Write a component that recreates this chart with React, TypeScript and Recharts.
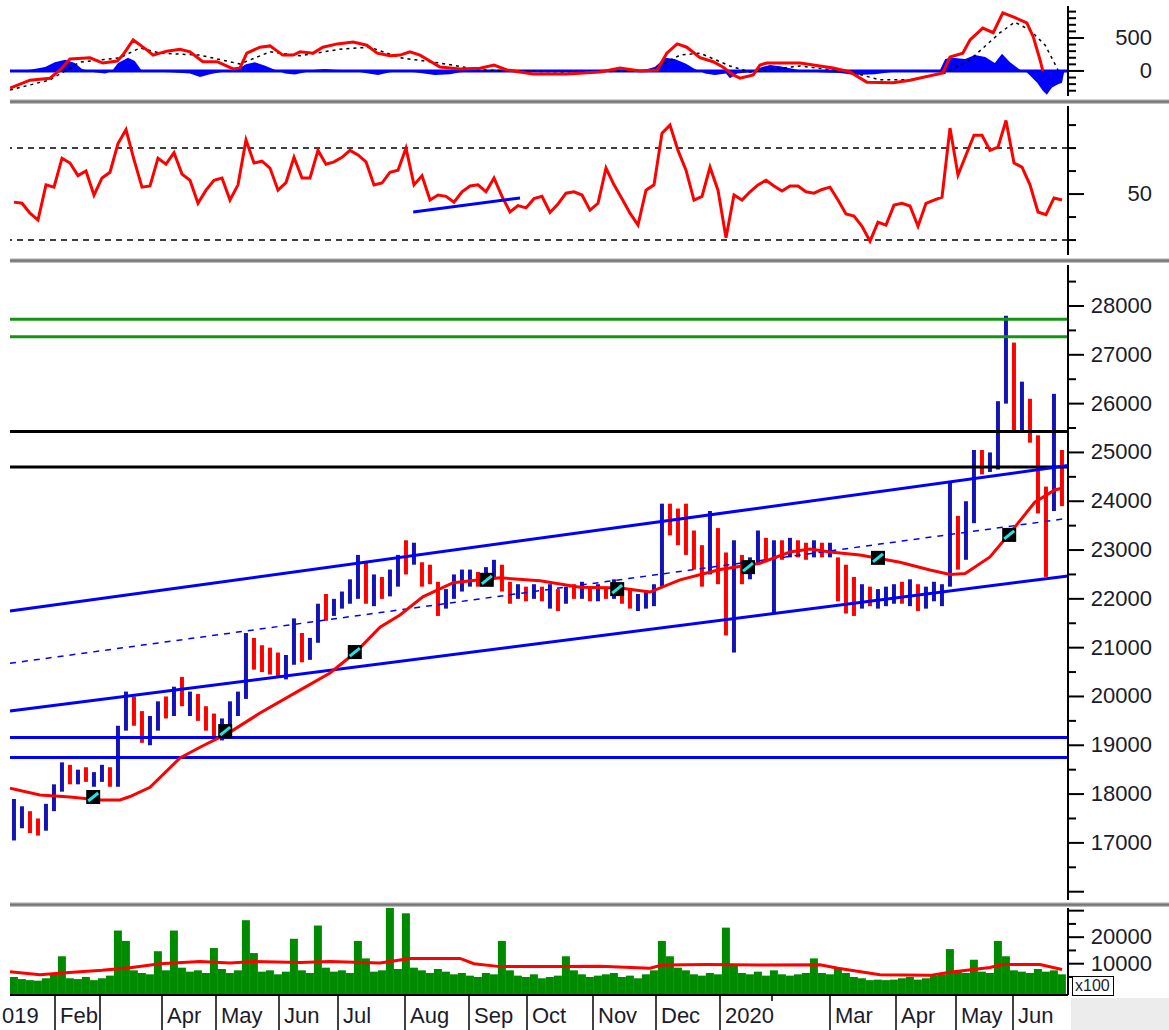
import React from "react";
import { ComposedChart, Bar, Line, Area, Scatter, XAxis, YAxis, ReferenceLine } from "recharts";

// one bar every ~3 sessions, Jan 2019 - Jun 2020
const highs = [
  17900, 17750, 17650, 17500, 17800, 18200, 18650, 18600, 18500, 18550,
  18450, 18600, 18550, 19400, 20100, 20000, 19700, 19600, 19900, 20000,
  20200, 20400, 20100, 20050, 19800, 19650, 19550, 19900, 20100, 21300,
  21200, 21050, 21000, 20900, 20850, 21600, 21300, 21200, 21900, 22100,
  22000, 22150, 22400, 22900, 22750, 22500, 22450, 22600, 22900, 23200,
  23150, 22750, 22700, 22350, 22200, 22500, 22600, 22600, 22550, 22650,
  22800, 22700, 22350, 22300, 22250, 22300, 22250, 22300, 22200, 22250,
  22300, 22350, 22250, 22300, 22250, 22400, 22300, 22200, 22100, 22150,
  22300, 23950, 23950, 23850, 23950, 23400, 23100, 23800, 23450, 22950,
  23200, 22900, 22850, 23400, 23250, 23200, 23200, 23250, 23200, 23150,
  23200, 23150, 23150, 22850, 22700, 22450, 22300, 22250, 22200, 22250,
  22300, 22350, 22400, 22300, 22250, 22350, 22300, 24400, 23700, 24000,
  25050, 25050, 25000, 26050, 27800, 27250, 26450, 26100, 25350, 24300,
  26200, 25050,
];
const lows = [
  17050, 17300, 17200, 17150, 17250, 17650, 18050, 18200, 18200, 18250,
  18150, 18250, 18150, 18150, 19300, 19400, 19050, 19000, 19300, 19550,
  19600, 19800, 19600, 19500, 19300, 19150, 19100, 19300, 19600, 19950,
  20550, 20500, 20450, 20400, 20350, 20650, 20700, 20750, 21100, 21550,
  21650, 21800, 21900, 22000, 21900, 21850, 22000, 22050, 22250, 22500,
  22700, 22250, 22300, 21650, 21800, 22000, 22150, 22250, 22250, 22300,
  22400, 22150, 21900, 22000, 21950, 22000, 21950, 21800, 21750, 21900,
  22000, 22000, 21950, 21950, 22000, 22000, 21900, 21800, 21750, 21800,
  21850, 22250, 23300, 23100, 22900, 22600, 22250, 22500, 22300, 21250,
  20900, 22300, 22400, 22700, 22750, 21700, 22800, 22850, 22850, 22800,
  22850, 22850, 22850, 21950, 21700, 21650, 21800, 21850, 21800, 21850,
  21900, 21900, 21850, 21750, 21800, 21950, 21850, 22250, 22600, 22800,
  23550, 24550, 24600, 24650, 26000, 25450, 25400, 25200, 23750, 22450,
  23800, 23900,
];
const closes = [
  17300, 17500, 17350, 17250, 17700, 18100, 18500, 18350, 18400, 18300,
  18350, 18500, 18250, 19300, 19900, 19600, 19150, 19450, 19800, 19700,
  20050, 19900, 19950, 19600, 19400, 19250, 19450, 19800, 20000, 21000,
  20750, 20650, 20550, 20500, 20700, 21400, 20850, 21100, 21800, 21750,
  21950, 22050, 22300, 22700, 22000, 22300, 22200, 22450, 22800, 22700,
  22800, 22400, 22350, 21950, 22100, 22350, 22400, 22450, 22400, 22550,
  22700, 22200, 22050, 22200, 22050, 22150, 22000, 22150, 21900, 22150,
  22100, 22250, 22050, 22200, 22100, 22300, 22000, 21900, 22000, 22050,
  22200, 23700, 23500, 23400, 23100, 22800, 22500, 23300, 22600, 21900,
  22700, 22650, 22700, 23200, 23000, 23050, 23000, 23100, 23050, 22950,
  23100, 23000, 23050, 22100, 21900, 21850, 22100, 21950, 22000, 22100,
  22150, 22050, 22150, 21900, 22050, 22200, 22250, 23800, 22900, 23700,
  24900, 24800, 24900, 25950, 27300, 25800, 26200, 25300, 24100, 24000,
  24500, 24300,
];
// volume in x100 shares
const volumes = [
  5000, 4200, 3800, 3600, 4500, 6000, 12800, 4500, 4200, 5000,
  3800, 4500, 5500, 22500, 18600, 7500, 6500, 6000, 14700, 7500,
  22500, 8500, 7000, 7500, 6500, 15900, 8000, 6500, 7500, 26400,
  14000, 7000, 7500, 6000, 7000, 19400, 7500, 6500, 24400, 8500,
  7000, 7500, 6500, 18600, 12000, 7000, 7500, 31000, 8000, 29000,
  8500, 7500, 6500, 8000, 7000, 6000, 6500, 5500, 5000, 6500,
  6000, 18600, 7500, 5500, 5000, 6000, 4500, 5000, 5500, 12800,
  7500, 6000, 5000, 5500, 6000, 6500, 5000, 5500, 4500, 6000,
  7500, 18600, 12800, 8500, 7500, 6000, 5500, 6500, 6000, 23600,
  9500, 6500, 6000, 7000, 5500, 7500, 6000, 5500, 6000, 6500,
  12000, 6500, 6000, 8000, 6500, 5000, 4500, 3800, 4000, 3800,
  4000, 4500, 5000, 4000, 4500, 5500, 6000, 15500, 7500, 6500,
  11500, 7000, 6500, 18600, 12800, 7500, 7000, 6500, 8000, 7000,
  7500, 6000,
];
const rsi = [
  46.5, 46, 41.7, 38.7, 54, 53, 65.6, 63.5, 58, 60,
  49.5, 57, 59.5, 72, 78, 65, 53, 53.5, 65.6, 63,
  68, 58.7, 56, 46, 51.7, 56, 57, 47.4, 54, 73.5,
  63.5, 64.3, 61.3, 51.7, 55, 66, 57, 57, 69, 63,
  64, 66, 69, 67, 64, 54, 54.8, 59.5, 60.4, 70,
  54, 58, 47.4, 49.6, 49, 46.5, 51, 53.5, 54, 51,
  57, 49, 42.2, 45, 44, 48, 49, 42, 45.7, 50.4,
  51, 49.6, 43, 46, 61.3, 54, 48, 41.7, 36.5, 51.7,
  54, 76.5, 80, 69, 60.4, 47.4, 49, 61.7, 51.7, 31,
  49.6, 47.4, 51, 54, 56, 53.5, 51.3, 53.5, 53.5, 51,
  50.4, 52, 53, 47.4, 41.3, 40.4, 36, 29.5, 37.8, 36.5,
  45.2, 46, 44.8, 36, 46, 47.4, 48.7, 78.7, 58.3, 67,
  75.6, 75.6, 69, 70.4, 82, 63.5, 61.7, 54, 42.2, 41,
  48.3, 47.4,
];

// [bar position, value]
const priceMa = [
  [-0.5, 18120], [3.25, 17980], [7, 17940], [10.75, 17880], [13.25, 17880], [14.5, 17950],
  [17, 18140], [20.75, 18740], [23.25, 18960], [27, 19270], [30.75, 19660], [35.75, 20130],
  [39.5, 20480], [42.6, 20890], [45.75, 21420], [48.25, 21670], [51.1, 22040], [54.9, 22330],
  [58.25, 22390], [60.75, 22430], [65.75, 22370], [70.75, 22240], [75.75, 22220], [79.5, 22140],
  [83.25, 22390], [88.25, 22600], [93.25, 22730], [97, 22960], [99.5, 23020], [102, 22960],
  [105.75, 22900], [110.75, 22750], [114.5, 22590], [117, 22500], [118.9, 22520], [122, 22860],
  [124.5, 23350], [127.6, 23980], [130.1, 24230], [131.1, 24270],
];
const maMarkers = [
  [9.9, 17940], [26.4, 19290], [42.6, 20910], [59.1, 22390],
  [75.4, 22200], [91.75, 22650], [108, 22840], [124.4, 23310],
];
const macdLine = [
  [-0.5, -260], [2, -140], [4.5, -110], [5.75, 15], [7, 180], [9.5, 200], [11.1, 120], [12.9, 150],
  [13.6, 240], [14.9, 470], [16.6, 320], [17.4, 240], [19.1, 300], [20.75, 330], [22, 290],
  [23.6, 140], [25.4, 140], [27.4, 30], [28.25, 45], [29.1, 270], [30.75, 360], [32, 380],
  [33.6, 240], [34.9, 240], [35.75, 290], [37.4, 270], [38.6, 360], [40.4, 410], [42.4, 440],
  [44.1, 390], [45.4, 270], [47, 230], [48.25, 240], [49.5, 290], [50.75, 240], [53.25, 60],
  [55.75, 30], [58.25, 40], [60, 90], [61.6, 15], [64.9, -45], [69.1, -45], [73.25, -15],
  [75.75, 45], [78.25, 0], [80.4, 15], [81.6, 270], [82.9, 410], [84.1, 360], [85.75, 200],
  [87.4, 140], [88.6, 60], [89.9, -60], [90.75, -110], [92.4, -60], [93.25, 90], [94.1, 120],
  [98.25, 120], [102.4, 45], [104.5, -15], [106.6, -170], [109.9, -180], [112, -140],
  [116.1, -30], [117, 210], [118.6, 270], [119.5, 470], [121.1, 650], [122.4, 580],
  [123.6, 880], [124.9, 820], [126.6, 730], [127.4, 520], [128.25, 170], [128.6, 0],
];
const macdSignal = [
  [-0.5, -290], [4.5, -135], [5.75, -45], [8.25, 135], [13.25, 200], [15.75, 350], [18.25, 270],
  [23.25, 240], [28.25, 105], [32, 290], [35.75, 230], [40.75, 330], [44.5, 360], [48.25, 200],
  [53.25, 120], [58.25, 15], [68.25, -15], [79.5, 0], [83.25, 240], [85.75, 270], [89.5, 75],
  [92, -15], [98.25, 75], [104.5, -15], [108.25, -135], [112, -135], [116.4, -30], [119.5, 170],
  [123.25, 580], [125.1, 740], [127, 620], [128.9, 390], [130.5, 15],
];
const macdHist = [
  [-0.5, 0], [2, 20], [3.9, 60], [5.1, 130], [6.4, 170], [7.6, 120], [8.5, 30], [10.1, -20],
  [11.4, -40], [12.25, 0], [13, 120], [14.25, 200], [15.1, 150], [16, 0], [17, -10], [19.5, -20],
  [22, -40], [23.25, -90], [24.5, -50], [25.75, -20], [27.6, 0], [29, 100], [30.1, 130],
  [31.4, 80], [32.6, 20], [33.9, -40], [35.1, -55], [36.4, -20], [37.6, 20], [38.9, 30],
  [40.1, 20], [42, 10], [43.9, -30], [45.5, -60], [47, -20], [48.25, 0], [50.1, -20],
  [52.6, -60], [54.5, -50], [55.75, -20], [58.25, 0], [60.1, 20], [62, -10], [65.75, 10],
  [68.25, -10], [70.75, 10], [73.25, 15], [75.75, 20], [78.25, 0], [80.1, 60], [81.4, 200],
  [82.6, 180], [84, 110], [85.1, 30], [86.4, -40], [87.6, -60], [89, -40], [89.5, -110],
  [90.4, -40], [92, -20], [93.25, 50], [94.5, 90], [95.75, 70], [97, 40], [98.25, 10],
  [100.75, -20], [103.25, -30], [105.1, -60], [107.6, -50], [109.5, -20], [110.75, 10],
  [115.75, 15], [116.4, 180], [117.25, 200], [118.9, 180], [120.1, 240], [121.4, 210],
  [122.6, 120], [123.5, 260], [124.5, 130], [125.75, 20], [126.4, 0], [127, -70], [127.9, -180],
  [128.6, -300], [129.1, -360], [129.75, -250], [130.5, -200], [131, -180], [131.3, 0],
];
const volumeMa = [
  [-0.5, 7000], [3.25, 5800], [6, 6500], [11, 7500], [14.5, 8500], [18.25, 10000], [23.25, 10800],
  [27, 10300], [30, 10800], [35.75, 10500], [39.5, 10800], [45.75, 10300], [49.5, 12000],
  [55.75, 12000], [57.5, 10000], [60.75, 8900], [68.25, 8900], [73.25, 9000], [79.5, 8300],
  [81, 9500], [86.75, 9700], [93.25, 9500], [100.75, 9600], [103, 8300], [108.25, 5800],
  [114.5, 5600], [117, 6800], [122, 8600], [123.5, 9700], [128.25, 9700], [131, 7800],
];

const greenLevels = [27730, 27370];
const blackLevels = [25430, 24700];
const blueLevels = [19160, 18750];
const channelTop = [[-0.5, 21750], [131.75, 24730]];
const channelBottom = [[-0.5, 19700], [131.75, 22470]];
const channelMid = [[-0.5, 20680], [131.75, 23650]];
const rsiTrend = [[49.9, 42.2], [63.25, 48.3]];
const rsiBands = [70, 30];

const monthTicks = [-0.5, 5.125, 10.75, 18.5, 25.25, 33.125, 40.5, 48.875, 56.875, 64.125, 72.375, 80.25, 88.25, 94.75, 102, 110.25, 117.75, 124.875];
const monthNames = ["019", "Feb", "", "Apr", "May", "Jun", "Jul", "Aug", "Sep", "Oct", "Nov", "Dec", "2020", "-", "Mar", "Apr", "May", "Jun"];

const macdTicks = [-300, -200, -100, 0, 100, 200, 300, 400, 500, 600, 700, 800, 900];
const rsiTicks = [30, 40, 50, 60, 70, 80];
const priceTicks = [16000, 16500, 17000, 17500, 18000, 18500, 19000, 19500, 20000, 20500, 21000, 21500, 22000, 22500, 23000, 23500, 24000, 24500, 25000, 25500, 26000, 26500, 27000, 27500, 28000, 28500];
const volTicks = [5000, 10000, 15000, 20000, 25000, 30000];

const X_DOMAIN = [-0.5, 131.75];
const W = 1169;
const FONT = "'Liberation Sans', Arial, sans-serif";
const BLUE = "#0000ff";
const RED = "#ff0000";

const bars = highs.map((h, i) => ({
  i,
  range: [lows[i], h],
  vol: volumes[i],
  rsi: rsi[i],
  up: closes[i] >= (i > 0 ? closes[i - 1] : lows[i]),
}));
const pts = (arr: number[][]) => arr.map(([i, v]) => ({ i, v }));

function axisTick(labels: number[], major: (v: number) => boolean) {
  return (props: any) => {
    const { x, y, payload } = props;
    const v = payload.value;
    return (
      <g>
        <line x1={x} x2={x + (major(v) ? 16 : 8)} y1={y} y2={y} stroke="#000" strokeWidth={2} />
        {labels.includes(v) && (
          <text x={1152} y={y} dy={7} textAnchor="end" fontSize={22} fontFamily={FONT} fill="#1b1b2b">
            {v}
          </text>
        )}
      </g>
    );
  };
}

const MonthTick = (props: any) => {
  const { x, y, payload } = props;
  const k = monthTicks.indexOf(payload.value);
  const name = monthNames[k];
  if (k === 0) {
    return (
      <text x={2} y={y + 28} fontSize={22} fontFamily={FONT} fill="#1b1b2b">
        {name}
      </text>
    );
  }
  if (name === "-") {
    return <line x1={x} x2={x} y1={y} y2={y + 6} stroke="#000" strokeWidth={1.5} />;
  }
  return (
    <g>
      <line x1={x} x2={x} y1={y} y2={y + 35} stroke="#000" strokeWidth={1.5} />
      <text x={x + 5} y={y + 28} fontSize={22} fontFamily={FONT} fill="#1b1b2b">
        {name}
      </text>
    </g>
  );
};

// high-low stick, coloured by the close against the previous close
const PriceBar = (props: any) => {
  const { x, y, width, height, payload } = props;
  const cx = x + (width || 0) / 2;
  const top = Math.min(y, y + height);
  return <rect x={cx - 2} y={top} width={4} height={Math.max(Math.abs(height), 1)} fill={payload.up ? "#1414b4" : RED} />;
};

const VolumeBar = (props: any) => {
  const { x, y, width, height } = props;
  const cx = x + (width || 0) / 2;
  return <rect x={cx - 4} y={y} width={8} height={Math.max(height, 0) + 5} fill="#008a00" />;
};

const Marker = (props: any) => {
  const { cx, cy } = props;
  return (
    <g>
      <rect x={cx - 7} y={cy - 7} width={14} height={14} fill="#000" />
      <line x1={cx - 5} y1={cy + 4} x2={cx + 5} y2={cy - 4} stroke="#22e6e6" strokeWidth={3} />
    </g>
  );
};

const hiddenX = <XAxis type="number" dataKey="i" domain={X_DOMAIN} hide allowDataOverflow />;

function rightAxis(domain: number[], ticks: number[], labels: number[], major: (v: number) => boolean) {
  return (
    <YAxis
      orientation="right"
      type="number"
      domain={domain}
      ticks={ticks}
      interval={0}
      width={101}
      tickSize={0}
      tickMargin={0}
      tickLine={false}
      axisLine={{ stroke: "#000", strokeWidth: 2 }}
      tick={axisTick(labels, major)}
      allowDataOverflow
    />
  );
}

const Separator = ({ top }: { top: number }) => (
  <div
    style={{
      position: "absolute",
      left: 10,
      top,
      width: W - 10,
      height: 5,
      background: "linear-gradient(#eeeeee, #8a8a8a 35%, #6a6a6a 60%, #d8d8d8)",
    }}
  />
);

export default function App() {
  return (
    <div style={{ position: "absolute", left: 0, top: 0, width: W, height: 1030, background: "#fff", overflow: "hidden" }}>
      {/* MACD */}
      <div style={{ position: "absolute", left: 0, top: 0 }}>
        <ComposedChart width={W} height={100} data={bars} margin={{ top: 6, right: 0, bottom: 4, left: 10 }}>
          {hiddenX}
          {rightAxis([-380, 985], macdTicks, [0, 500], (v) => v === 0 || v === 500)}
          <ReferenceLine y={0} stroke={BLUE} strokeWidth={3} />
          <Area data={pts(macdHist)} dataKey="v" type="linear" baseValue={0} fill={BLUE} fillOpacity={1} stroke="none" isAnimationActive={false} />
          <Line data={pts(macdSignal)} dataKey="v" type="linear" stroke="#000" strokeWidth={1.5} strokeDasharray="3 4" dot={false} isAnimationActive={false} />
          <Line data={pts(macdLine)} dataKey="v" type="linear" stroke={RED} strokeWidth={3} dot={false} isAnimationActive={false} />
        </ComposedChart>
      </div>

      {/* RSI */}
      <div style={{ position: "absolute", left: 0, top: 104 }}>
        <ComposedChart width={W} height={154} data={bars} margin={{ top: 2, right: 0, bottom: 3, left: 10 }}>
          {hiddenX}
          {rightAxis([23.5, 88.3], rsiTicks, [50], (v) => v === 50)}
          {rsiBands.map((b) => (
            <ReferenceLine key={b} y={b} stroke="#000" strokeWidth={1.5} strokeDasharray="6 5" />
          ))}
          <Line dataKey="rsi" type="linear" stroke={RED} strokeWidth={3} dot={false} isAnimationActive={false} />
          <ReferenceLine
            segment={[{ x: rsiTrend[0][0], y: rsiTrend[0][1] }, { x: rsiTrend[1][0], y: rsiTrend[1][1] }]}
            stroke={BLUE}
            strokeWidth={3}
          />
        </ComposedChart>
      </div>

      {/* Price */}
      <div style={{ position: "absolute", left: 0, top: 263 }}>
        <ComposedChart width={W} height={640} data={bars} margin={{ top: 2, right: 0, bottom: 3, left: 10 }}>
          {hiddenX}
          {rightAxis([15830, 28840], priceTicks, priceTicks.filter((t) => t >= 17000 && t <= 28000 && t % 1000 === 0), (v) => v % 1000 === 0)}
          {greenLevels.map((v) => (
            <ReferenceLine key={v} y={v} stroke="#129612" strokeWidth={3} />
          ))}
          {blackLevels.map((v) => (
            <ReferenceLine key={v} y={v} stroke="#000" strokeWidth={3} />
          ))}
          {blueLevels.map((v) => (
            <ReferenceLine key={v} y={v} stroke={BLUE} strokeWidth={3} />
          ))}
          <ReferenceLine
            segment={[{ x: channelMid[0][0], y: channelMid[0][1] }, { x: channelMid[1][0], y: channelMid[1][1] }]}
            stroke={BLUE}
            strokeWidth={1.5}
            strokeDasharray="6 6"
          />
          <Bar dataKey="range" barSize={4} shape={<PriceBar />} isAnimationActive={false} />
          <ReferenceLine
            segment={[{ x: channelTop[0][0], y: channelTop[0][1] }, { x: channelTop[1][0], y: channelTop[1][1] }]}
            stroke={BLUE}
            strokeWidth={3}
          />
          <ReferenceLine
            segment={[{ x: channelBottom[0][0], y: channelBottom[0][1] }, { x: channelBottom[1][0], y: channelBottom[1][1] }]}
            stroke={BLUE}
            strokeWidth={3}
          />
          <Line data={pts(priceMa)} dataKey="v" type="linear" stroke={RED} strokeWidth={3} dot={false} isAnimationActive={false} />
          <Scatter data={pts(maMarkers)} dataKey="v" shape={<Marker />} isAnimationActive={false} />
        </ComposedChart>
      </div>

      {/* Volume */}
      <div style={{ position: "absolute", left: 0, top: 907 }}>
        <ComposedChart width={W} height={123} data={bars} margin={{ top: 1, right: 0, bottom: 0, left: 10 }}>
          <XAxis
            type="number"
            dataKey="i"
            domain={X_DOMAIN}
            allowDataOverflow
            ticks={monthTicks}
            interval={0}
            height={35}
            tickSize={0}
            tickMargin={0}
            tickLine={false}
            axisLine={{ stroke: "#000", strokeWidth: 2 }}
            tick={<MonthTick />}
          />
          {rightAxis([-1800, 31000], volTicks, [10000, 20000], (v) => v % 10000 === 0)}
          <Bar dataKey="vol" barSize={8} shape={<VolumeBar />} isAnimationActive={false} />
          <Line data={pts(volumeMa)} dataKey="v" type="linear" stroke={RED} strokeWidth={3} dot={false} isAnimationActive={false} />
        </ComposedChart>
      </div>

      <Separator top={99} />
      <Separator top={258} />
      <Separator top={902} />

      <div style={{ position: "absolute", left: 1071, top: 998, width: 98, height: 32, background: "#ececec" }} />
      <div
        style={{
          position: "absolute",
          left: 1072,
          top: 976,
          width: 42,
          height: 20,
          border: "1px solid #000",
          background: "#fff",
          fontFamily: FONT,
          fontSize: 16,
          color: "#1b1b2b",
          lineHeight: "18px",
          paddingLeft: 2,
          boxSizing: "border-box",
        }}
      >
        x100
      </div>
    </div>
  );
}
